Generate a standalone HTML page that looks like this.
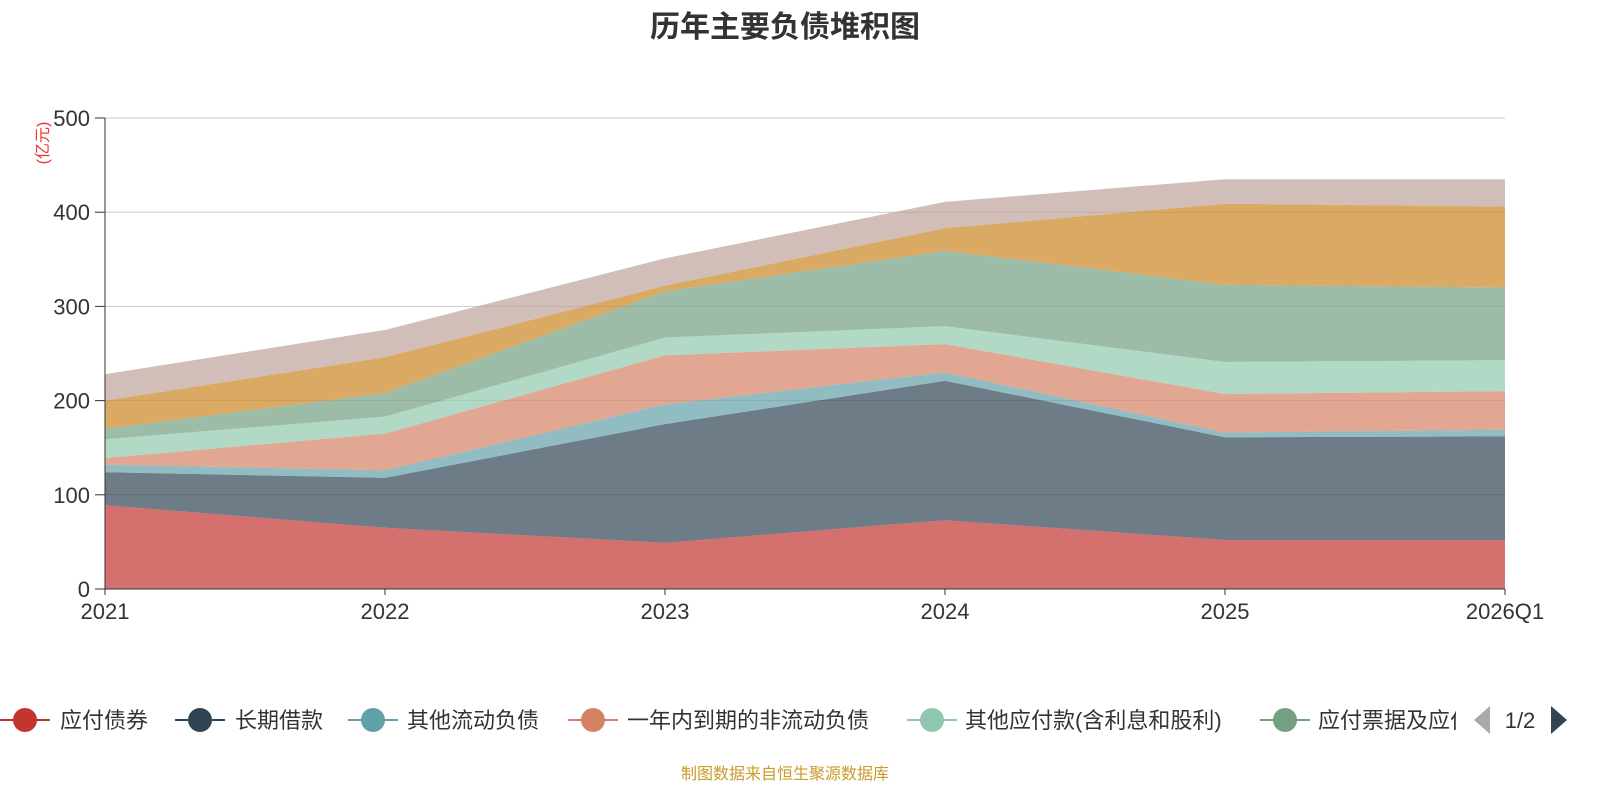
<!DOCTYPE html>
<html><head><meta charset="utf-8"><style>
body{margin:0;background:#fff;}
svg{display:block;font-family:"Liberation Sans","Noto Sans CJK SC",sans-serif;}
</style></head><body>
<svg id="chart" width="1600" height="800" viewBox="0 0 1600 800">
<text x="785" y="37" text-anchor="middle" font-size="30" font-weight="bold" fill="#333">历年主要负债堆积图</text>
<text transform="translate(48,143) rotate(-90)" text-anchor="middle" font-size="16" fill="#e33">(亿元)</text>
<g id="grid"></g><g id="areas"></g><g id="axes"></g><g id="legend"></g>
<text x="785" y="779" text-anchor="middle" font-size="16" fill="#c89b2a">制图数据来自恒生聚源数据库</text>
</svg>
<script>
const categories=["2021","2022","2023","2024","2025","2026Q1"];
const seriesNames=["应付债券","长期借款","其他流动负债","一年内到期的非流动负债","其他应付款(含利息和股利)","应付票据及应付账款","短期借款","其他"];
const s1=[89,65,49,73,52,52];
const s2=[35,53,126,148,109,110];
const s3=[8,8,21,9,5,7];
const s4=[7,39,52,30,41,41];
const s5=[20,18,19,19,34,33];
const s6=[11,25,49,80,82,77];
const s7=[30,38,6,24,86,86];
const s8=[28,29,29,28,26,29];
const yTicks=[0,100,200,300,400,500];
const colors=["#c23531","#2f4554","#61a0a8","#d48265","#91c7ae","#749f83","#ca8622","#bda29a"];
const series=[s1,s2,s3,s4,s5,s6,s7,s8];
const NS="http://www.w3.org/2000/svg";
const x0=105,x1=1505,yb=589,yt=118;
const X=i=>x0+(x1-x0)*i/(categories.length-1);
const Y=v=>yb-(yb-yt)*v/500;
function mk(t,a,p){const e=document.createElementNS(NS,t);for(const k in a)e.setAttribute(k,a[k]);p.appendChild(e);return e;}
const grid=document.getElementById('grid'),axes=document.getElementById('axes'),areas=document.getElementById('areas'),legend=document.getElementById('legend');
yTicks.forEach(v=>{
 const l=mk('line',{x1:x0,x2:x1,y1:Y(v),y2:Y(v),stroke:v?'#ccc':'#333','stroke-width':1},v?grid:axes);
 
 
 const t=mk('text',{x:90,y:Y(v)+8,'text-anchor':'end','font-size':22,fill:'#333'},axes);t.textContent=v;
 
 
 const tk=mk('line',{x1:95,x2:x0,y1:Y(v),y2:Y(v),stroke:'#333'},axes);
 
 
});
const ya=mk('line',{x1:x0,x2:x0,y1:yt,y2:yb,stroke:'#333'},axes);


categories.forEach((c,i)=>{
 const tk=mk('line',{x1:X(i),x2:X(i),y1:yb,y2:yb+6,stroke:'#333'},axes);
 
 
 const t=mk('text',{x:X(i),y:yb+30,'text-anchor':'middle','font-size':22,fill:'#333'},axes);t.textContent=c;
 
 
});
let base=categories.map(()=>0);
series.forEach((s,k)=>{
 const top=base.map((b,i)=>b+s[i]);
 let d='M'+top.map((v,i)=>X(i)+','+Y(v)).join('L');
 for(let i=categories.length-1;i>=0;i--)d+='L'+X(i)+','+Y(base[i]);
 const p=mk('path',{d:d+'Z',fill:colors[k],'fill-opacity':0.7,stroke:'none'},areas);
 
 
 base=top;
});
const lg=[[0,60],[175,235],[348,407],[568,627],[907,965],[1260,1318]];
const defs=mk('defs',{},legend);
const cp=mk('clipPath',{id:'lc'},defs);mk('rect',{x:0,y:690,width:1456,height:60},cp);
const lgg=mk('g',{'clip-path':'url(#lc)'},legend);
lg.forEach((p,k)=>{
 const g=mk('g',{},lgg);
 
 
 mk('line',{x1:p[0],x2:p[0]+50,y1:720,y2:720,stroke:colors[k],'stroke-width':2},g);
 mk('circle',{cx:p[0]+25,cy:720,r:12,fill:colors[k]},g);
 const t=mk('text',{x:p[1],y:728,'font-size':22,fill:'#333'},g);t.textContent=seriesNames[k];
});
const pl=mk('path',{d:'M1490,706L1474,720L1490,734Z',fill:'#aaa'},legend);


const pt=mk('text',{x:1520,y:728,'text-anchor':'middle','font-size':22,fill:'#333'},legend);pt.textContent='1/2';


const pn=mk('path',{d:'M1551,706L1567,720L1551,734Z',fill:'#2f4554'},legend);


</script>
</body></html>
